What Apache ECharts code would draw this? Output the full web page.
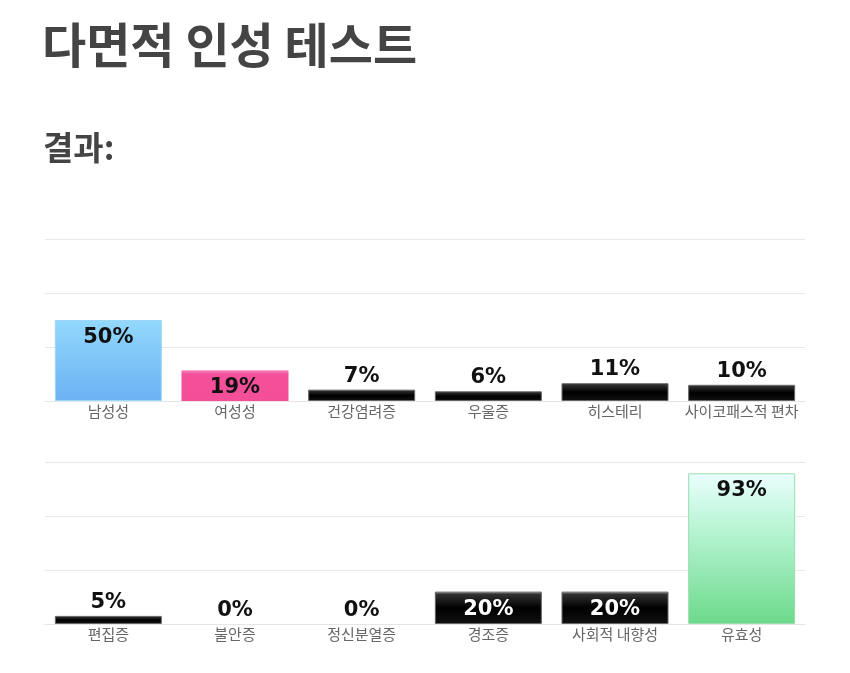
<!DOCTYPE html>
<html><head><meta charset="utf-8">
<script src="https://cdn.jsdelivr.net/npm/echarts@6/dist/echarts.min.js"></script>
<style>html,body{margin:0;padding:0;background:#fff;}#c{width:850px;height:673px;}</style>
</head><body><div id="c"></div>
<script>
const titleText = '다면적 인성 테스트';
const subtitleText = '결과:';
const categoriesTop = ['남성성', '여성성', '건강염려증', '우울증', '히스테리', '사이코패스적 편차'];
const valuesTop = [50, 19, 7, 6, 11, 10];
const categoriesBottom = ['편집증', '불안증', '정신분열증', '경조증', '사회적 내향성', '유효성'];
const valuesBottom = [5, 0, 0, 20, 20, 93];

const blackStyle = {
  color: {type:'linear',x:0,y:0,x2:0,y2:1,colorStops:[{offset:0,color:'#ddd'},{offset:0.07,color:'#333'},{offset:0.5,color:'#000'},{offset:1,color:'#111'}]},
  borderColor:'#666', borderWidth:1
};
const specialStyles = {
  '남성성': {color:{type:'linear',x:0,y:0,x2:0,y2:1,colorStops:[{offset:0,color:'#93d8fc'},{offset:1,color:'#6ab2f4'}]}, borderColor:'#9bd8f8', borderWidth:1},
  '여성성': {color:{type:'linear',x:0,y:0,x2:0,y2:1,colorStops:[{offset:0,color:'#f68cbd'},{offset:0.12,color:'#f5509b'},{offset:1,color:'#f54e99'}]}, borderWidth:0},
  '유효성': {color:{type:'linear',x:0,y:0,x2:0,y2:1,colorStops:[{offset:0,color:'#eafffe'},{offset:0.4,color:'#b4f3d0'},{offset:1,color:'#6cd98b'}]}, borderColor:'#98deb0', borderWidth:1}
};
function makeData(cats, vals){
  return vals.map((v,i)=>{
    const name = cats[i];
    let style = specialStyles[name] || blackStyle;
    if (v === 0) style = Object.assign({}, style, {borderWidth:0});
    const inside = v >= 15;
    return {
      value: v,
      itemStyle: style,
      label: {
        position: inside ? 'insideTop' : 'top',
        distance: inside ? 7 : 3,
        color: (inside && !specialStyles[name]) ? '#fff' : '#111'
      }
    };
  });
}
const labelBase = {show:true, formatter:'{c}%', fontFamily:'DejaVu Sans', fontWeight:'bold', fontSize:21};
const chart = echarts.init(document.getElementById('c'));
chart.setOption({
  backgroundColor:'#fff',
  animation:false,
  title:[
    {text:titleText, left:37, top:16, textStyle:{fontFamily:'Noto Sans CJK KR', fontWeight:'bold', fontSize:48, color:'#444'}},
    {text:subtitleText, left:38, top:126, textStyle:{fontFamily:'Noto Sans CJK KR', fontWeight:'bold', fontSize:33, color:'#444'}}
  ],
  grid:[
    {left:45, right:45, top:239, height:162},
    {left:45, right:45, top:462, height:162}
  ],
  xAxis:[0,1].map(i=>({
    type:'category', gridIndex:i, data: i===0?categoriesTop:categoriesBottom,
    axisLine:{show:true, lineStyle:{color:'#e6e6e6'}}, axisTick:{show:false},
    axisLabel:{color:'#666', fontSize:15, fontFamily:'Noto Sans CJK KR', margin:3, interval:0}
  })),
  yAxis:[0,1].map(i=>({
    type:'value', gridIndex:i, min:0, max:100, interval:100/3,
    axisLabel:{show:false}, axisLine:{show:false}, axisTick:{show:false},
    splitLine:{lineStyle:{color:'#e8e8e8'}}
  })),
  series:[
    {type:'bar', xAxisIndex:0, yAxisIndex:0, barWidth:107, data:makeData(categoriesTop, valuesTop), label:labelBase},
    {type:'bar', xAxisIndex:1, yAxisIndex:1, barWidth:107, data:makeData(categoriesBottom, valuesBottom), label:labelBase}
  ]
});
</script></body></html>
